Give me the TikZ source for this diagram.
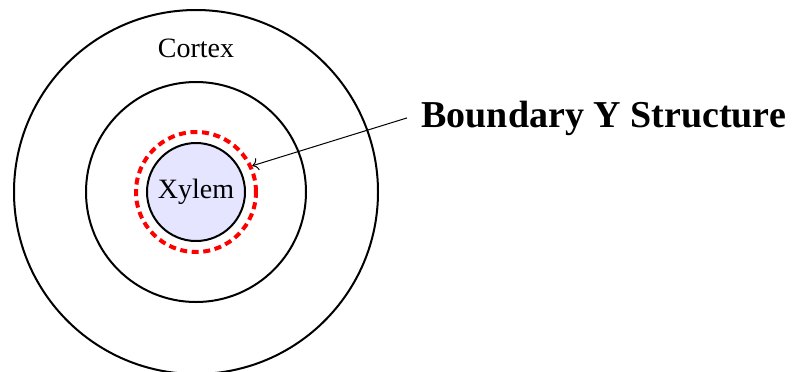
\documentclass[tikz,border=0pt]{standalone}
\usepackage{fontspec}
\setmainfont{Liberation Serif}
\usepackage{tikz}
\usetikzlibrary{positioning,arrows.meta}

\begin{document}
\begin{tikzpicture}[x=0.5pt, y=-0.5pt, >={To[length=3pt]},
    ring/.style={circle, draw, line width=1pt, inner sep=0pt},
    bound/.style={circle, draw=red, dash pattern=on 3.5pt off 2.3pt, line width=2pt, inner sep=0pt},
    txt/.style={font=\fontsize{14}{17}\selectfont}]
  \useasboundingbox (0,0) rectangle (792,371);
  \node[ring, minimum size=182pt] (cortex) at (196,192) {};
  \node[ring, minimum size=110pt] (inner) at (196,192) {};
  \node[bound, minimum size=60pt] (boundary) at (196,192) {};
  \node[ring, fill=blue!10, minimum size=49pt, txt] (xylem) at (196,192) {Xylem};
  \node[txt, anchor=base] (cortexlbl) at (196,57) {Cortex};
  \node[anchor=base west, inner xsep=7pt, font=\fontsize{19}{23}\selectfont\bfseries] (label) at (407,127) {Boundary Y Structure};
  \draw[->, line width=0.5pt] (label.west) -- (boundary.25);
\end{tikzpicture}
\end{document}
